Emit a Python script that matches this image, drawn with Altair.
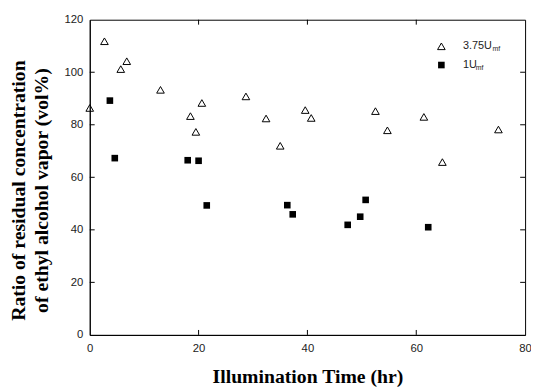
import altair as alt
import pandas as pd

# Open triangles: 3.75 Umf
tri_x = [0, 2.7, 5.7, 6.8, 13.0, 18.5, 19.5, 20.6, 28.7, 32.4, 35.0, 39.6, 40.7, 52.5, 54.7, 61.4, 64.8, 75.1]
tri_y = [86.4, 111.8, 101.2, 104.2, 93.3, 83.3, 77.3, 88.3, 90.8, 82.4, 72.0, 85.6, 82.6, 85.2, 77.9, 83.0, 65.8, 78.2]
# Filled squares: 1 Umf
sq_x = [3.7, 4.6, 18.0, 20.0, 21.5, 36.3, 37.3, 47.4, 49.7, 50.7, 62.2]
sq_y = [89.2, 67.3, 66.5, 66.3, 49.3, 49.4, 45.9, 41.9, 45.0, 51.4, 41.0]

x_ticks = [0, 20, 40, 60, 80]
y_ticks = [0, 20, 40, 60, 80, 100, 120]
x_inner = [20, 40, 60]
y_inner = [20, 40, 60, 80, 100]

x_title = "Illumination Time (hr)"
y_title = ["Ratio of residual concentration", "of ethyl alcohol vapor (vol%)"]

W, H = 442, 320
TL = 5

xs = alt.Scale(domain=[0, 80], nice=False, zero=False)
ys = alt.Scale(domain=[0, 120], nice=False, zero=False)

tri_df = pd.DataFrame({"x": tri_x, "y": tri_y})
sq_df = pd.DataFrame({"x": sq_x, "y": sq_y})

xaxis = alt.Axis(values=x_ticks, ticks=False, grid=False, domainColor="black", domainWidth=1,
                 labelFont="Liberation Sans", labelFontSize=11.5, labelColor="#222", labelPadding=8,
                 labelFlush=False, labelOverlap=False,
                 title=x_title, titleFont="Liberation Serif", titleFontSize=20, titleFontWeight="bold",
                 titleColor="black", titlePadding=13)
yaxis = alt.Axis(values=y_ticks, ticks=False, grid=False, domainColor="black", domainWidth=1,
                 labelFont="Liberation Sans", labelFontSize=11.5, labelColor="#222", labelPadding=7,
                 labelFlush=False, labelOverlap=False,
                 title=y_title, titleFont="Liberation Serif", titleFontSize=20, titleFontWeight="bold",
                 titleColor="black", titleLineHeight=23, titleAngle=270,
                 titleAlign="center", titleBaseline="alphabetic", titleX=-66, titleY=173)

X = lambda f: alt.X(f, scale=xs, axis=xaxis)
Y = lambda f: alt.Y(f, scale=ys, axis=yaxis)

tri = alt.Chart(tri_df).mark_point(shape="triangle-up", filled=False, stroke="black",
                                   strokeWidth=1, size=60, opacity=1).encode(x=X("x:Q"), y=Y("y:Q"))
sq = alt.Chart(sq_df).mark_square(color="black", size=45, opacity=1).encode(x=X("x:Q"), y=Y("y:Q"))

xt = pd.DataFrame({"x": x_inner})
yt = pd.DataFrame({"y": y_inner})
bottom = alt.Chart(xt).mark_rule(color="black", strokeWidth=1).encode(
    x=X("x:Q"), y=alt.value(H), y2=alt.value(H - TL))
top = alt.Chart(xt).mark_rule(color="black", strokeWidth=1).encode(
    x=X("x:Q"), y=alt.value(0), y2=alt.value(TL))
left = alt.Chart(yt).mark_rule(color="black", strokeWidth=1).encode(
    y=Y("y:Q"), x=alt.value(0), x2=alt.value(TL))
right = alt.Chart(yt).mark_rule(color="black", strokeWidth=1).encode(
    y=Y("y:Q"), x=alt.value(W), x2=alt.value(W - TL))

# manual legend (subscripted labels)
leg_tri = alt.Chart(pd.DataFrame({"a": [0]})).mark_point(
    shape="triangle-up", filled=False, stroke="black", strokeWidth=1, size=60, opacity=1
).encode(x=alt.value(357), y=alt.value(27))
leg_sq = alt.Chart(pd.DataFrame({"a": [0]})).mark_square(color="black", size=45, opacity=1).encode(
    x=alt.value(357), y=alt.value(46))
leg_main1 = alt.Chart(pd.DataFrame({"t": ["3.75U"]})).mark_text(
    font="Liberation Sans", fontSize=11, align="left", baseline="middle", color="#222"
).encode(text="t:N", x=alt.value(379), y=alt.value(27))
leg_main2 = alt.Chart(pd.DataFrame({"t": ["1U"]})).mark_text(
    font="Liberation Sans", fontSize=11, align="left", baseline="middle", color="#222"
).encode(text="t:N", x=alt.value(379), y=alt.value(46))
leg_sub1 = alt.Chart(pd.DataFrame({"t": ["mf"]})).mark_text(
    font="Liberation Sans", fontSize=7, align="left", baseline="middle", color="#222"
).encode(text="t:N", x=alt.value(409), y=alt.value(30))
leg_sub2 = alt.Chart(pd.DataFrame({"t": ["mf"]})).mark_text(
    font="Liberation Sans", fontSize=7, align="left", baseline="middle", color="#222"
).encode(text="t:N", x=alt.value(392), y=alt.value(49))

chart = alt.layer(tri, sq, bottom, top, left, right, leg_tri, leg_sq,
                  leg_main1, leg_main2, leg_sub1, leg_sub2).properties(
    width=W, height=H,
    autosize=alt.AutoSizeParams(type="none"),
    padding={"left": 83, "top": 9, "right": 6, "bottom": 50},
    background="white",
).configure_view(stroke="black", strokeWidth=1)

chart.save("out.html", embed_options={"renderer": "svg", "actions": False})
